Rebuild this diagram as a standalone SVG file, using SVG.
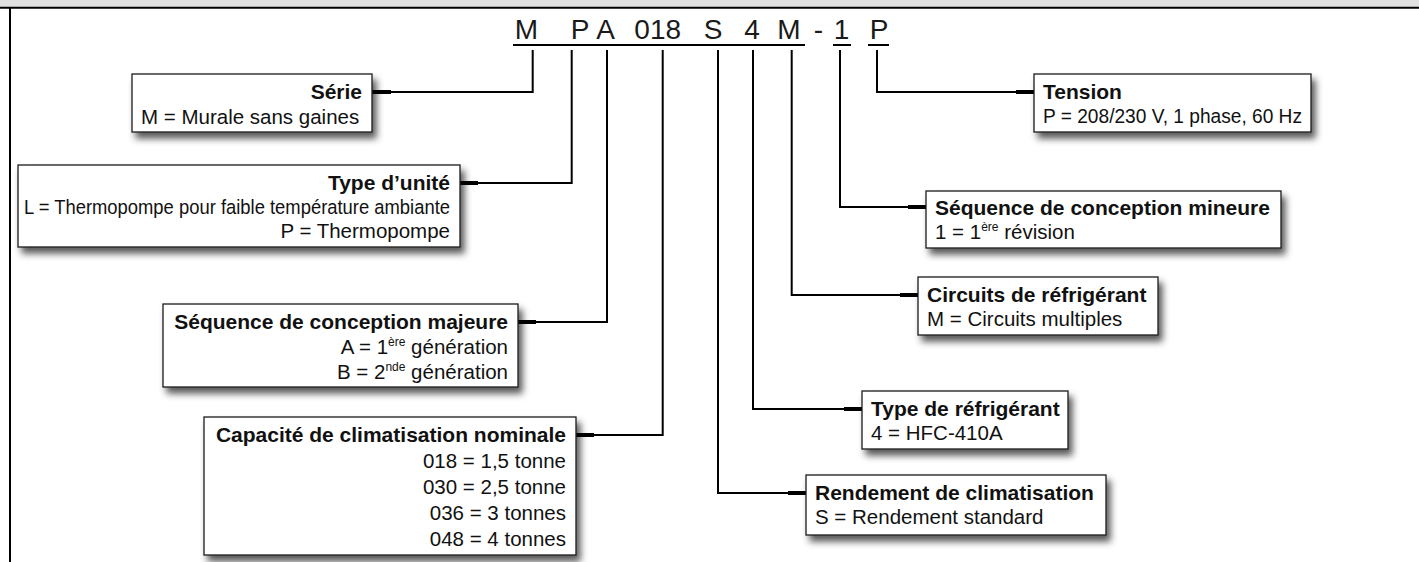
<svg xmlns="http://www.w3.org/2000/svg" width="1419" height="562" viewBox="0 0 1419 562" style="overflow:hidden;display:block">
<defs>
<style>
.t{font-family:"Liberation Sans",Arial,Helvetica,sans-serif;fill:#111}
.h{font-weight:bold;font-size:21px}
.r{font-size:20.5px}
.code{font-family:"Liberation Sans",Arial,sans-serif;font-size:28px;fill:#1a1a1a;text-anchor:middle}
.box{fill:#fff;stroke:#1a1a1a;stroke-width:1.3}
.ln{stroke:#000;stroke-width:2;fill:none}
.stub{stroke:#000;stroke-width:4;fill:none}
.e{text-anchor:end}
</style>
<filter id="sh" x="-5%" y="-10%" width="115%" height="140%">
<feDropShadow dx="4" dy="6" stdDeviation="3.5" flood-color="#000" flood-opacity="0.65"/>
</filter>
</defs>
<rect x="0" y="0" width="1419" height="562" fill="#fff"/>
<rect x="0" y="0" width="1419" height="7" fill="#e0e0e0"/>
<line x1="0" y1="7.8" x2="1419" y2="7.8" stroke="#000" stroke-width="2"/>
<line x1="10" y1="7" x2="10" y2="562" stroke="#000" stroke-width="2"/>

<g id="model-code">
<text class="code" y="39"><tspan x="526.5">M</tspan><tspan x="580">P</tspan><tspan x="605.5">A</tspan><tspan x="657.7">018</tspan><tspan x="713">S</tspan><tspan x="752">4</tspan><tspan x="789">M</tspan><tspan x="818.3">-</tspan><tspan x="841.5">1</tspan><tspan x="879">P</tspan></text>
<line x1="513" y1="45" x2="805" y2="45" stroke="#000" stroke-width="2"/>
<line x1="833" y1="45" x2="851" y2="45" stroke="#000" stroke-width="2"/>
<line x1="868" y1="45" x2="889" y2="45" stroke="#000" stroke-width="2"/>
</g>

<g id="connectors">
<path class="ln" d="M372 92 H532.7 V50"/>
<path class="stub" d="M372 92 H391"/>
<path class="ln" d="M460 183 H571.7 V50"/>
<path class="stub" d="M460 183 H478"/>
<path class="ln" d="M518 322 H607 V50"/>
<path class="stub" d="M518 322 H536"/>
<path class="ln" d="M576 435 H662.7 V50"/>
<path class="stub" d="M576 435 H594"/>
<path class="ln" d="M718 50 V493 H806"/>
<path class="stub" d="M788 493 H806"/>
<path class="ln" d="M753 50 V409 H862"/>
<path class="stub" d="M844 409 H862"/>
<path class="ln" d="M791.7 50 V295 H918"/>
<path class="stub" d="M900 295 H918"/>
<path class="ln" d="M840 50 V207 H926"/>
<path class="stub" d="M908 207 H926"/>
<path class="ln" d="M877 50 V92 H1034"/>
<path class="stub" d="M1016 92 H1034"/>
</g>

<g id="serie">
<rect class="box" filter="url(#sh)" x="132" y="74" width="240" height="58"/>
<text class="t h e" x="362" y="99">Série</text>
<text class="t r" x="141" y="124">M = Murale sans gaines</text>
</g>

<g id="type-unite">
<rect class="box" filter="url(#sh)" x="18" y="165" width="442" height="82"/>
<text class="t h e" x="450" y="190">Type d’unité</text>
<text class="t r e" x="450" y="214" textLength="426" lengthAdjust="spacingAndGlyphs">L = Thermopompe pour faible température ambiante</text>
<text class="t r e" x="450" y="238">P = Thermopompe</text>
</g>

<g id="sequence-majeure">
<rect class="box" filter="url(#sh)" x="163" y="304" width="355" height="83"/>
<text class="t h e" x="508" y="329">Séquence de conception majeure</text>
<text class="t r e" x="508" y="354">A = 1<tspan font-size="12" dy="-8">ère</tspan><tspan dy="8"> génération</tspan></text>
<text class="t r e" x="508" y="379">B = 2<tspan font-size="12" dy="-8">nde</tspan><tspan dy="8"> génération</tspan></text>
</g>

<g id="capacite">
<rect class="box" filter="url(#sh)" x="204" y="417" width="372" height="138"/>
<text class="t h e" x="566" y="442">Capacité de climatisation nominale</text>
<text class="t r e" x="566" y="468">018 = 1,5 tonne</text>
<text class="t r e" x="566" y="494">030 = 2,5 tonne</text>
<text class="t r e" x="566" y="520">036 = 3 tonnes</text>
<text class="t r e" x="566" y="546">048 = 4 tonnes</text>
</g>

<g id="rendement">
<rect class="box" filter="url(#sh)" x="806" y="475" width="300" height="60"/>
<text class="t h" x="815" y="500">Rendement de climatisation</text>
<text class="t r" x="815" y="524">S = Rendement standard</text>
</g>

<g id="type-refrigerant">
<rect class="box" filter="url(#sh)" x="862" y="391" width="206" height="58"/>
<text class="t h" x="871" y="416">Type de réfrigérant</text>
<text class="t r" x="871" y="440">4 = HFC-410A</text>
</g>

<g id="circuits">
<rect class="box" filter="url(#sh)" x="918" y="277" width="240" height="58"/>
<text class="t h" x="927" y="302">Circuits de réfrigérant</text>
<text class="t r" x="927" y="326">M = Circuits multiples</text>
</g>

<g id="sequence-mineure">
<rect class="box" filter="url(#sh)" x="926" y="191" width="355" height="57"/>
<text class="t h" x="935" y="215">Séquence de conception mineure</text>
<text class="t r" x="935" y="239">1 = 1<tspan font-size="12" dy="-8">ère</tspan><tspan dy="8"> révision</tspan></text>
</g>

<g id="tension">
<rect class="box" filter="url(#sh)" x="1034" y="74" width="277" height="58"/>
<text class="t h" x="1043" y="99">Tension</text>
<text class="t r" x="1043" y="123" textLength="259" lengthAdjust="spacingAndGlyphs">P = 208/230 V, 1 phase, 60 Hz</text>
</g>
</svg>
